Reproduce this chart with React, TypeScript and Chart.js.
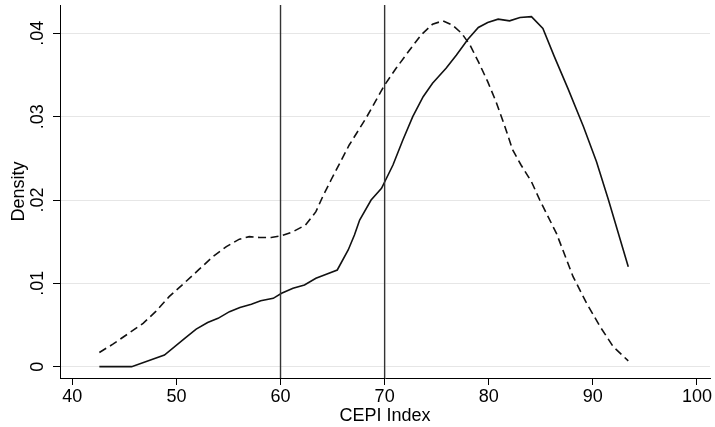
import React, { useEffect, useRef } from "react";
import { Chart, registerables } from "chart.js";

Chart.register(...registerables);

// ---- data ----
const solidX = [42.6, 45.7, 48.85, 50.8, 51.9, 53.0, 54.0, 55.1, 56.1, 57.2, 58.1, 59.3, 60.1, 61.2, 62.3, 63.4, 64.4, 65.45, 66.5, 67.1, 67.6, 68.7, 69.7, 70.8, 71.75, 72.7, 73.7, 74.6, 75.9, 76.9, 78.0, 79.0, 79.9, 80.9, 82.0, 83.0, 84.1, 85.2, 86.3, 87.6, 89.1, 90.35, 91.5, 93.4];
const solidY = [0, 0, 0.0014, 0.0034, 0.0045, 0.0053, 0.0058, 0.0066, 0.0071, 0.0075, 0.0079, 0.0082, 0.0088, 0.0094, 0.0098, 0.0106, 0.0111, 0.0116, 0.014, 0.0158, 0.0176, 0.02, 0.0214, 0.0242, 0.0272, 0.03, 0.0324, 0.034, 0.0358, 0.0374, 0.0393, 0.0407, 0.0413, 0.0417, 0.0415, 0.0419, 0.042, 0.0406, 0.0372, 0.0334, 0.0288, 0.0246, 0.02, 0.012];

const dashX = [42.6, 43.9, 45.3, 46.8, 48.0, 49.3, 50.9, 52.2, 53.5, 54.8, 56.05, 57.0, 58.0, 59.1, 60.1, 61.2, 62.4, 63.4, 64.05, 64.85, 66.6, 68.2, 70.0, 71.1, 72.4, 73.5, 74.6, 75.6, 76.5, 77.4, 78.2, 79.0, 79.9, 80.7, 81.5, 82.3, 83.1, 84.1, 84.9, 86.5, 88.1, 89.4, 90.7, 91.95, 93.4];
const dashY = [0.0017, 0.0027, 0.0039, 0.0052, 0.0066, 0.0084, 0.0102, 0.0117, 0.0132, 0.0144, 0.0153, 0.0156, 0.0155, 0.0155, 0.0157, 0.0162, 0.017, 0.0186, 0.0204, 0.0224, 0.0266, 0.0298, 0.0338, 0.0358, 0.038, 0.0398, 0.0411, 0.0415, 0.041, 0.04, 0.0386, 0.0366, 0.0342, 0.0318, 0.029, 0.026, 0.0242, 0.0222, 0.02, 0.016, 0.0108, 0.0076, 0.0048, 0.0024, 0.0007];

const refLines = [60, 70];

const xTicks = [40, 50, 60, 70, 80, 90, 100];
const yTicks = [0, 0.01, 0.02, 0.03, 0.04];
const yTickLabels = ["0", ".01", ".02", ".03", ".04"];

const X_MIN = 38.82;
const X_MAX = 101.25;
const Y_MIN = -0.00136;
const Y_MAX = 0.0434;

const xTitle = "CEPI Index";
const yTitle = "Density";

const FONT = '"Liberation Sans", Arial, sans-serif';

const yLabelPlugin = {
  id: "yLabels",
  afterDraw(chart: any) {
    const ctx = chart.ctx;
    const ys = chart.scales.y;
    ctx.save();
    ctx.fillStyle = "#000";
    ctx.font = `18px ${FONT}`;
    ctx.textAlign = "center";
    ctx.textBaseline = "alphabetic";
    yTicks.forEach((v, i) => {
      const py = ys.getPixelForValue(v);
      ctx.save();
      ctx.translate(43, py);
      ctx.rotate(-Math.PI / 2);
      ctx.fillText(yTickLabels[i], 0, 0);
      ctx.restore();
    });
    const ca = chart.chartArea;
    ctx.save();
    ctx.translate(24, (ca.top + ca.bottom) / 2);
    ctx.rotate(-Math.PI / 2);
    ctx.fillText(yTitle, 0, 0);
    ctx.restore();
    ctx.restore();
  },
};

export default function App() {
  const ref = useRef<HTMLCanvasElement | null>(null);

  useEffect(() => {
    if (!ref.current) return;
    const chart = new Chart(ref.current, {
      type: "line",
      data: {
        datasets: [
          ...refLines.map((v) => ({
            data: [
              { x: v, y: Y_MIN },
              { x: v, y: Y_MAX },
            ],
            borderColor: "#333",
            borderWidth: 1.4,
            pointRadius: 0,
            fill: false,
          })),
          {
            data: solidX.map((x, i) => ({ x, y: solidY[i] })),
            borderColor: "#111",
            borderWidth: 1.6,
            pointRadius: 0,
            tension: 0,
            fill: false,
          },
          {
            data: dashX.map((x, i) => ({ x, y: dashY[i] })),
            borderColor: "#111",
            borderWidth: 1.6,
            borderDash: [8, 4.5],
            pointRadius: 0,
            tension: 0,
            fill: false,
          },
        ],
      },
      options: {
        responsive: false,
        animation: false,
        layout: { padding: { top: 5, right: 5, left: 0, bottom: 0 } },
        plugins: {
          legend: { display: false },
          tooltip: { enabled: false },
        },
        scales: {
          x: {
            type: "linear",
            min: X_MIN,
            max: X_MAX,
            afterBuildTicks: (s: any) => {
              s.ticks = xTicks.map((v) => ({ value: v }));
            },
            afterFit: (s: any) => {
              s.height = 49;
              s.paddingLeft = 0;
              s.paddingRight = 0;
            },
            ticks: {
              color: "#000",
              font: { family: FONT, size: 18 },
              padding: 1,
              maxRotation: 0,
              autoSkip: false,
              callback: (v: any) => String(v),
            },
            grid: {
              drawOnChartArea: false,
              tickLength: 7,
              tickColor: "#000",
              tickWidth: 1,
            },
            border: { display: true, color: "#000", width: 1 },
            title: {
              display: true,
              text: xTitle,
              color: "#000",
              font: { family: FONT, size: 18 },
              padding: { top: 0, bottom: 0 },
            },
          },
          y: {
            type: "linear",
            min: Y_MIN,
            max: Y_MAX,
            afterBuildTicks: (s: any) => {
              s.ticks = yTicks.map((v) => ({ value: v }));
            },
            afterFit: (s: any) => {
              s.width = 60;
              s.paddingTop = 0;
              s.paddingBottom = 0;
            },
            ticks: { display: false },
            grid: {
              color: "#e6e6e6",
              lineWidth: 1,
              tickLength: 7,
              tickColor: "#000",
              tickWidth: 1,
            },
            border: { display: true, color: "#000", width: 1 },
          },
        },
      },
      plugins: [yLabelPlugin],
    });
    return () => chart.destroy();
  }, []);

  return (
    <div style={{ position: "absolute", left: 0, top: 0, width: 715, height: 427, background: "#fff" }}>
      <canvas ref={ref} width={715} height={427} style={{ display: "block" }} />
    </div>
  );
}
